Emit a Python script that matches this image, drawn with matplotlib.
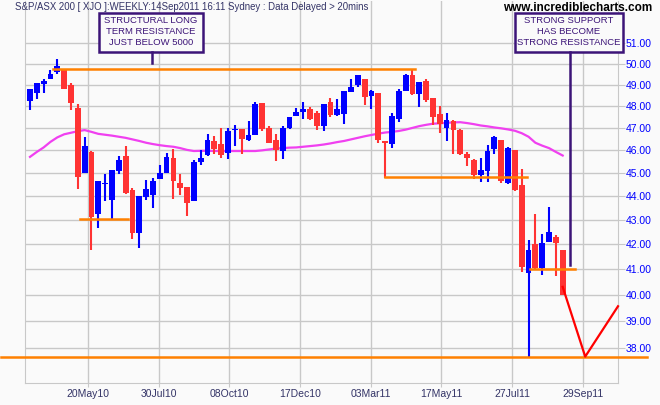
import matplotlib
matplotlib.use('Agg')
import matplotlib.pyplot as plt
import matplotlib.transforms as mtransforms
from matplotlib.lines import Line2D
from matplotlib.patches import Rectangle
from matplotlib.ticker import NullLocator
import numpy as np

plt.rcParams['font.family'] = ['Liberation Sans', 'DejaVu Sans']

# weekly candles (price / 100)
opens = [48.25, 48.6, 49.05, 49.28, 49.6, 49.7, 48.97, 47.9, 45.01, 45.91,
         43.25, 44.52, 43.83, 45.1, 45.75, 44.26, 42.45, 43.97, 44.04, 44.73,
         44.99, 45.66, 44.55, 44.4, 43.8, 45.48, 45.78, 46.42, 46.27, 45.88,
         46.9, 46.95, 46.45, 46.68, 48.14, 47.0, 46.45, 45.97, 47.0, 47.55,
         47.72, 47.85, 47.68, 47.07, 48.17, 47.58, 47.62, 48.65, 48.97, 49.28,
         48.47, 48.6, 46.4, 46.27, 47.4, 48.73, 49.48, 48.55, 49.2, 48.38,
         47.62, 47.0, 47.31, 46.9, 45.85, 45.55, 44.91, 45.06, 46.07, 46.45,
         44.57, 46.0, 44.48, 40.85, 42.0, 41.03, 42.1, 42.28, 41.76]
highs = [48.8, 49.1, 49.28, 49.7, 50.24, 49.75, 49.1, 48.1, 46.58, 45.95,
         44.65, 44.96, 45.13, 45.75, 46.2, 44.36, 44.0, 44.67, 44.77, 45.36,
         45.87, 46.03, 44.94, 44.4, 45.58, 46.0, 46.72, 46.63, 47.0, 47.0,
         47.15, 46.95, 47.3, 48.2, 48.14, 47.1, 46.72, 47.07, 47.5, 47.9,
         48.2, 47.95, 47.78, 48.1, 48.4, 48.33, 48.72, 49.3, 49.48, 49.3,
         48.75, 48.6, 46.4, 47.68, 48.82, 49.5, 49.75, 49.15, 49.28, 48.4,
         48.0, 47.67, 47.35, 46.95, 45.92, 45.6, 45.63, 46.22, 46.63, 46.45,
         46.15, 46.0, 45.17, 42.17, 43.25, 42.4, 43.55, 42.38, 41.76]
lows = [47.8, 48.32, 48.62, 49.28, 49.5, 48.82, 47.82, 44.3, 45.0, 41.76,
        42.68, 43.77, 43.03, 44.96, 44.1, 42.2, 41.85, 43.83, 43.48, 44.73,
        44.99, 43.86, 44.04, 43.18, 43.8, 45.36, 45.74, 45.82, 45.63, 45.6,
        46.2, 45.85, 46.4, 46.68, 46.85, 46.33, 45.53, 45.59, 46.93, 47.55,
        47.4, 47.35, 46.92, 46.88, 47.5, 47.55, 47.19, 48.65, 48.88, 48.05,
        47.86, 46.33, 44.77, 46.1, 47.25, 48.73, 48.5, 47.95, 48.2, 47.13,
        46.79, 46.42, 45.85, 45.8, 45.3, 44.73, 44.59, 44.59, 45.85, 44.57,
        44.5, 44.22, 40.9, 37.67, 41.0, 40.77, 42.1, 40.73, 40.0]
closes = [48.8, 49.08, 49.16, 49.52, 49.9, 48.82, 48.15, 44.84, 46.18, 43.1,
          44.65, 44.58, 45.13, 45.55, 44.14, 42.45, 44.0, 44.3, 44.66, 45.01,
          45.7, 44.63, 44.33, 43.72, 45.48, 45.66, 46.45, 46.03, 45.78, 46.87,
          46.95, 46.5, 46.68, 48.1, 46.95, 46.33, 46.0, 47.0, 47.5, 47.75,
          47.87, 47.4, 47.07, 48.1, 47.58, 47.87, 48.7, 48.88, 49.45, 48.44,
          48.73, 46.45, 46.3, 47.55, 48.7, 49.48, 48.55, 49.15, 48.27, 47.52,
          47.19, 47.38, 46.9, 45.85, 45.67, 44.91, 45.13, 45.97, 46.6, 44.63,
          46.1, 44.26, 41.09, 41.76, 41.03, 42.03, 42.5, 42.03, 40.0]
# moving average (magenta), one value per candle
ma = [45.70, 45.92, 46.12, 46.37, 46.57, 46.71, 46.78, 46.85, 46.90, 46.82,
      46.73, 46.69, 46.65, 46.60, 46.55, 46.48, 46.41, 46.33, 46.27, 46.22,
      46.18, 46.15, 46.09, 46.01, 45.96, 45.97, 45.97, 45.96, 45.96, 45.96,
      45.96, 45.96, 45.96, 45.96, 45.99, 46.03, 46.07, 46.09, 46.11, 46.12,
      46.15, 46.18, 46.21, 46.25, 46.30, 46.36, 46.41, 46.48, 46.55, 46.62,
      46.68, 46.74, 46.79, 46.82, 46.86, 46.92, 47.00, 47.08, 47.14, 47.19,
      47.21, 47.23, 47.25, 47.26, 47.22, 47.17, 47.11, 47.07, 47.02, 46.98,
      46.93, 46.87, 46.76, 46.60, 46.33, 46.20, 46.09, 45.92, 45.76]

date_labels = ['20May10', '30Jul10', '08Oct10', '17Dec10',
               '03Mar11', '17May11', '27Jul11', '29Sep11']
price_ticks = [38, 39, 40, 41, 42, 43, 44, 45, 46, 47, 48, 49, 50, 51]

# support / resistance lines: (level, start bar, end bar)
sr_lines = [(49.75, 3.3, 56.4), (43.03, 7.3, 14.35),
            (44.8, 52.0, 72.8), (41.0, 73.2, 79.8)]
major_support = 37.67
# projected move (red)
proj_x = [78.0, 81.3, 86.1]
proj_y = [40.3, 37.67, 39.55]

W, H = 660, 405
BG = '#fafafa'
GRID = '#c8c8c8'
PURPLE = '#3c1478'
ORANGE = '#ff8000'


def fx(px):
    return px / W


def fy(py):
    return 1 - py / H


fig = plt.figure(figsize=(W / 100, H / 100), dpi=100, facecolor=BG)
ax = fig.add_axes([fx(25), fy(383), (618 - 25) / W, (383 - 1) / H])
ax.set_facecolor(BG)

o = np.array(opens)
c = np.array(closes)
x = np.arange(len(o))
cols = np.where(c >= o, '#0000ff', '#ff3333')

ax.set_yscale('log')
ax.vlines(x, lows, highs, colors=cols, linewidth=1.5, zorder=3)
bottoms = np.minimum(o, c)
heights = np.maximum(np.abs(c - o), 0.05)
ax.bar(x, heights, bottom=bottoms, width=0.85, color=cols, linewidth=0, zorder=3)

ax.plot(x, ma, color='#f040f0', linewidth=1.6, zorder=2)

for lvl, x0, x1 in sr_lines:
    ax.plot([x0, x1], [lvl, lvl], color=ORANGE, linewidth=1.8, zorder=4)

blend = mtransforms.blended_transform_factory(fig.transFigure, ax.transData)
ax.plot([fx(1), fx(647)], [major_support, major_support], color=ORANGE,
        linewidth=1.8, transform=blend, clip_on=False, zorder=4)

ax.plot(proj_x, proj_y, color='#ff0000', linewidth=1.6, zorder=4, clip_on=False)

ax.set_xlim(-0.73, 86.1)
ax.set_ylim(36.72, 53.14)

# ticks
step = 10.35
ax.set_xticks([8.49 + step * k for k in range(len(date_labels))])
ax.set_xticklabels(date_labels)
ax.set_yticks(price_ticks)
ax.set_yticklabels(['%.2f' % v for v in price_ticks])
ax.yaxis.set_minor_locator(NullLocator())
ax.yaxis.tick_right()
ax.tick_params(axis='y', length=5, color=GRID, labelcolor='#0000ff',
               labelsize=7.5, pad=0.5)
ax.tick_params(axis='x', length=3, color=GRID, labelcolor='#333366',
               labelsize=7.5, pad=1.5)
ax.grid(True, color=GRID, linewidth=1)
ax.set_axisbelow(True)
for side in ['left', 'bottom', 'right']:
    ax.spines[side].set_color(GRID)
ax.spines['top'].set_visible(False)


# annotation boxes
def note_box(x0, x1, lines, ys):
    fig.add_artist(Rectangle((fx(x0), fy(51.7)), (x1 - x0) / W, 39 / H,
                             transform=fig.transFigure, facecolor=BG,
                             edgecolor=PURPLE, linewidth=1.8, zorder=5))
    for t, yy in zip(lines, ys):
        fig.text(fx((x0 + x1) / 2), fy(yy), t, ha='center', va='center',
                 color=PURPLE, fontsize=6.8, zorder=6)


note_box(99, 203, ['STRUCTURAL LONG', 'TERM RESISTANCE', 'JUST BELOW 5000'],
         [20.7, 31.5, 42.5])
fig.add_artist(Line2D([fx(151.7), fx(151.7)], [fy(51.7), fy(63.3)],
                      color=PURPLE, linewidth=1.8, zorder=5))
note_box(515, 623, ['STRONG SUPPORT', 'HAS BECOME', 'STRONG RESISTANCE'],
         [20.7, 31.7, 42.7])
fig.add_artist(Line2D([fx(570), fx(570)], [fy(51.7), fy(265)],
                      color=PURPLE, linewidth=1.8, zorder=5))

fig.text(fx(15), fy(7), 'S&P/ASX 200 [ XJO ]:WEEKLY:14Sep2011 16:11 Sydney : Data Delayed > 20mins',
         ha='left', va='center', color='#333366', fontsize=6.9)
fig.text(fx(503), fy(8), 'www.incrediblecharts.com', ha='left', va='center',
         color='black', fontsize=8.5, fontweight='bold', zorder=7)

fig.savefig('out.png', dpi=100, facecolor=BG)
